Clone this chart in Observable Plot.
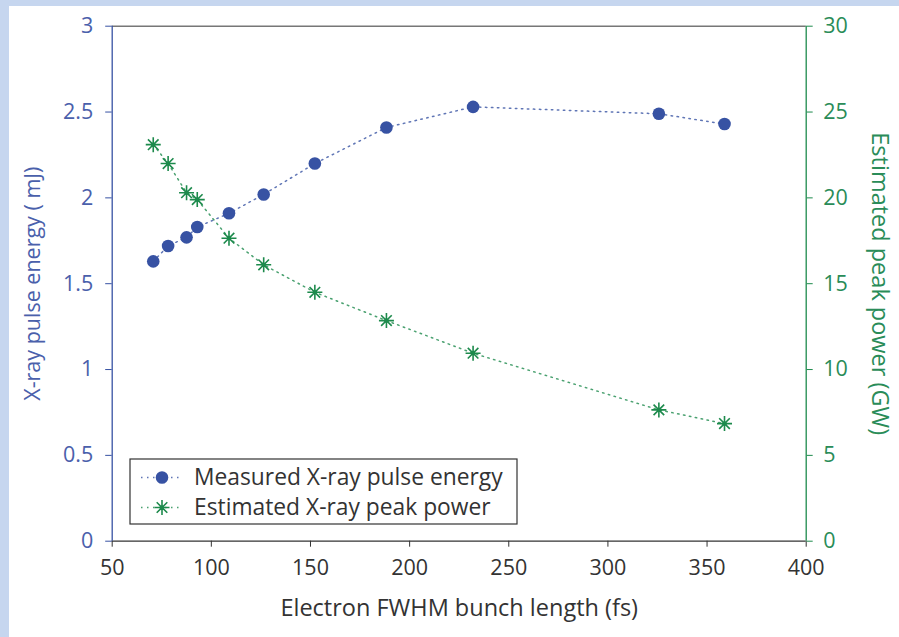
<!DOCTYPE html>
<html>
<head>
<meta charset="utf-8">
<script src="https://cdn.jsdelivr.net/npm/d3@7"></script>
<script src="https://cdn.jsdelivr.net/npm/@observablehq/plot@0.6"></script>
<style>
  html, body { margin: 0; padding: 0; }
  body { background: #c6d6ef; width: 899px; height: 637px; overflow: hidden; }
  #wrap { position: absolute; left: 9px; top: 6px; width: 890px; height: 631px; background: #fff; }
</style>
</head>
<body>
<div id="wrap"></div>
<script>
// ---- data ----
const bunchLength = [70.7, 78.2, 87.5, 92.9, 108.9, 126.4, 152.2, 188.3, 232.0, 325.7, 358.8];
const pulseEnergy = [1.63, 1.72, 1.77, 1.83, 1.91, 2.02, 2.20, 2.41, 2.53, 2.49, 2.43];
const peakPower   = [23.1, 22.0, 20.3, 19.9, 17.65, 16.1, 14.5, 12.85, 10.95, 7.65, 6.85];
const xTicks = [50, 100, 150, 200, 250, 300, 350, 400];
const yLeftTicks = [0, 0.5, 1, 1.5, 2, 2.5, 3];
const yRightTicks = [0, 5, 10, 15, 20, 25, 30];
const seriesNames = ["Measured X-ray pulse energy", "Estimated X-ray peak power"];
const xLabel = "Electron FWHM bunch length (fs)";
const yLeftLabel = "X-ray pulse energy ( mJ)";
const yRightLabel = "Estimated peak power (GW)";

const BLUE = "#3752a3", BLUE_TXT = "#4a60ab", GREEN = "#1d8a4c", GREEN_TXT = "#2a8c58", DARK = "#333";
const FONT = "Open Sans";
const DASH = "1.5 4.5";

const energyData = bunchLength.map((x, i) => ({x, y: pulseEnergy[i]}));
const powerData = bunchLength.map((x, i) => ({x, p: peakPower[i]}));
const rightScale = 10; // right axis = left axis * 10

const star8 = {
  draw(ctx, size) {
    const r = Math.sqrt(size / Math.PI);
    for (let k = 0; k < 4; k++) {
      const a = k * Math.PI / 4;
      ctx.moveTo(r * Math.cos(a), r * Math.sin(a));
      ctx.lineTo(-r * Math.cos(a), -r * Math.sin(a));
    }
  }
};

const chart = Plot.plot({
  width: 890, height: 631,
  marginLeft: 102.7, marginTop: 19.7, marginRight: 93.3, marginBottom: 96.3,
  style: {fontFamily: FONT, fontSize: "21px", background: "transparent"},
  x: {domain: [50, 400]},
  y: {domain: [0, 3]},
  marks: [
    Plot.axisX({ticks: xTicks, tickSize: 6, tickPadding: 13, fontSize: 21.5, color: DARK, stroke: DARK, label: null, tickFormat: d => String(d)}),
    Plot.axisY({anchor: "left", ticks: yLeftTicks, tickSize: 6.5, tickPadding: 12.5, fontSize: 21.5, color: BLUE_TXT, stroke: BLUE, label: null, tickFormat: d => String(d)}),
    Plot.axisY({anchor: "right", ticks: yRightTicks.map(v => v / rightScale), tickSize: 6, tickPadding: 11, fontSize: 21.5, color: GREEN_TXT, stroke: GREEN, label: null, tickFormat: d => String(Math.round(d * rightScale))}),
    Plot.ruleY([3], {stroke: "#777", strokeWidth: 1.6}),
    Plot.ruleY([0], {stroke: DARK, strokeWidth: 1.3}),
    Plot.ruleX([50], {stroke: BLUE, strokeWidth: 1.3}),
    Plot.ruleX([400], {stroke: GREEN, strokeWidth: 1.3}),
    Plot.line(energyData, {x: "x", y: "y", stroke: BLUE, strokeWidth: 1.5, strokeDasharray: DASH, strokeOpacity: 0.8}),
    Plot.line(powerData, {x: "x", y: d => d.p / rightScale, stroke: GREEN, strokeWidth: 1.5, strokeDasharray: DASH, strokeOpacity: 0.8}),
    Plot.dot(energyData, {x: "x", y: "y", r: 6.3, fill: BLUE, stroke: "none"}),
    Plot.dot(powerData, {x: "x", y: d => d.p / rightScale, r: 7.5, symbol: star8, stroke: GREEN, strokeWidth: 1.6, fill: "none"}),
    Plot.dot(powerData, {x: "x", y: d => d.p / rightScale, r: 2, fill: GREEN, stroke: "none"}),
    Plot.text([xLabel], {frameAnchor: "bottom", textAnchor: "middle", lineAnchor: "middle", dy: 67.5, fontSize: 23.5, fill: DARK}),
    Plot.text([yLeftLabel], {frameAnchor: "left", textAnchor: "middle", lineAnchor: "middle", dx: -78.7, rotate: -90, fontSize: 21.5, fill: BLUE_TXT, className: "ylabel-left"}),
    Plot.text([yRightLabel], {frameAnchor: "right", textAnchor: "middle", lineAnchor: "middle", dx: 73.3, rotate: 90, fontSize: 23.5, fill: GREEN_TXT})
  ]
});
document.getElementById("wrap").appendChild(chart);

// ---- legend ----
const svg = d3.select(chart);
const lg = svg.append("g").attr("font-family", FONT).attr("font-size", 22.8).attr("text-anchor", "start");
lg.append("rect").attr("x", 121).attr("y", 453).attr("width", 387).attr("height", 65)
  .attr("fill", "#fff").attr("stroke", DARK).attr("stroke-width", 1.2);
const rows = [
  {name: seriesNames[0], color: BLUE, y: 471.5, kind: "dot"},
  {name: seriesNames[1], color: GREEN, y: 501.5, kind: "star"}
];
rows.forEach(r => {
  lg.append("line").attr("x1", 132).attr("x2", 174).attr("y1", r.y).attr("y2", r.y)
    .attr("stroke", r.color).attr("stroke-width", 1.5).attr("stroke-dasharray", DASH).attr("stroke-opacity", 0.8);
  if (r.kind === "dot") {
    lg.append("circle").attr("cx", 153).attr("cy", r.y).attr("r", 6.3).attr("fill", r.color);
  } else {
    const p = d3.path(); star8.draw(p, Math.PI * 7.5 * 7.5);
    lg.append("path").attr("d", p.toString()).attr("transform", `translate(153,${r.y})`)
      .attr("stroke", r.color).attr("stroke-width", 1.6).attr("fill", "none");
    lg.append("circle").attr("cx", 153).attr("cy", r.y).attr("r", 2).attr("fill", r.color);
  }
  lg.append("text").attr("x", 185).attr("y", r.y).attr("dy", "0.35em").attr("fill", DARK).text(r.name);
});
</script>
</body>
</html>
